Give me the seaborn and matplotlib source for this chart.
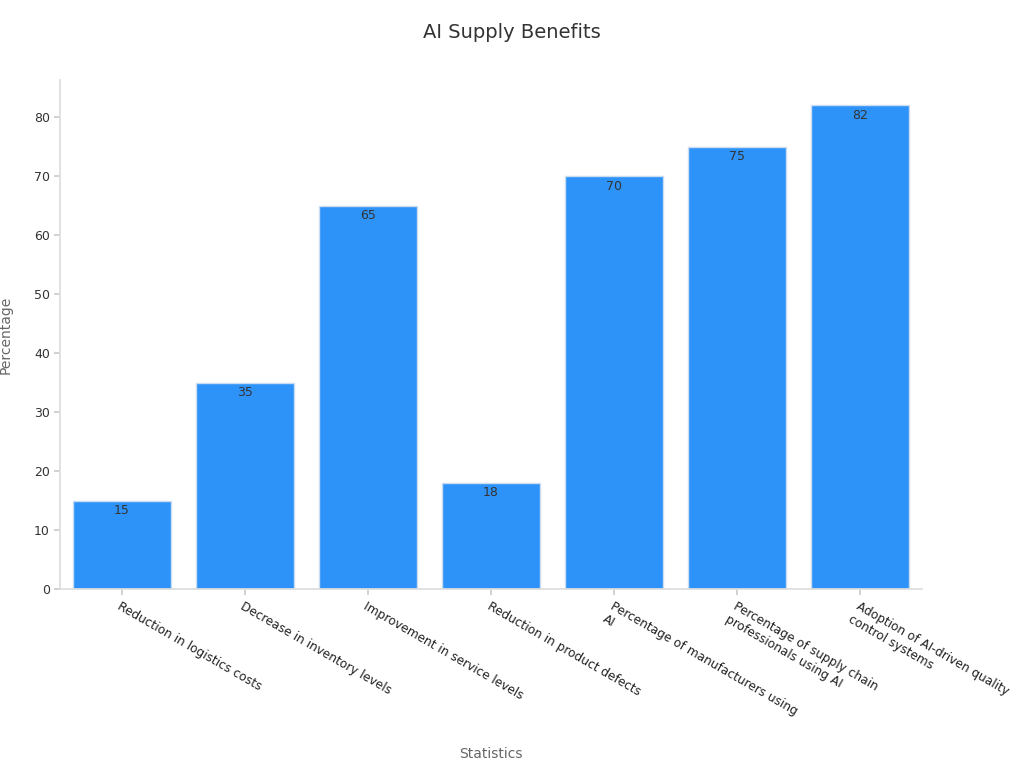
import matplotlib
matplotlib.use("Agg")
import matplotlib.pyplot as plt
import pandas as pd
import seaborn as sns

categories = [
    "Reduction in logistics costs",
    "Decrease in inventory levels",
    "Improvement in service levels",
    "Reduction in product defects",
    "Percentage of manufacturers using\nAI",
    "Percentage of supply chain\nprofessionals using AI",
    "Adoption of AI-driven quality\ncontrol systems",
]
values = [15, 35, 65, 18, 70, 75, 82]

df = pd.DataFrame({"Statistics": categories, "Percentage": values})

sns.set_theme(style="white")
plt.rcParams["font.family"] = ["DejaVu Sans"]

fig = plt.figure(figsize=(10.24, 7.68), dpi=100)
ax = fig.add_axes([0.059, 0.233, 0.841, 0.663])

sns.barplot(data=df, x="Statistics", y="Percentage", color="#2e93f8",
            edgecolor="#c9dcf0", linewidth=1, width=0.8, saturation=1, ax=ax)

for i, v in enumerate(values):
    ax.text(i, v - 0.6, str(v), ha="center", va="top", fontsize=9, color="#333333")

ax.set_ylim(0, 86.3)
ax.set_xlim(-0.5, 6.5)
ax.set_yticks(range(0, 81, 10))
ax.tick_params(axis="y", left=True, length=4, color="#cccccc", labelsize=9, labelcolor="#333333")
ax.tick_params(axis="x", bottom=True, length=4, color="#cccccc", labelsize=8.7, labelcolor="#222222")
plt.setp(ax.get_xticklabels(), rotation=-30, ha="left", rotation_mode="anchor")

for s in ["top", "right"]:
    ax.spines[s].set_visible(False)
for s in ["left", "bottom"]:
    ax.spines[s].set_color("#dddddd")

ax.set_xlabel("Statistics", fontsize=10, color="#666666")
ax.xaxis.set_label_coords(0.5, -0.31)
ax.set_ylabel("Percentage", fontsize=10, color="#666666")
ax.yaxis.set_label_coords(-0.055, 0.5)
fig.suptitle("AI Supply Benefits", fontsize=14, color="#333333", y=0.97)

fig.savefig("out.png", dpi=100)
